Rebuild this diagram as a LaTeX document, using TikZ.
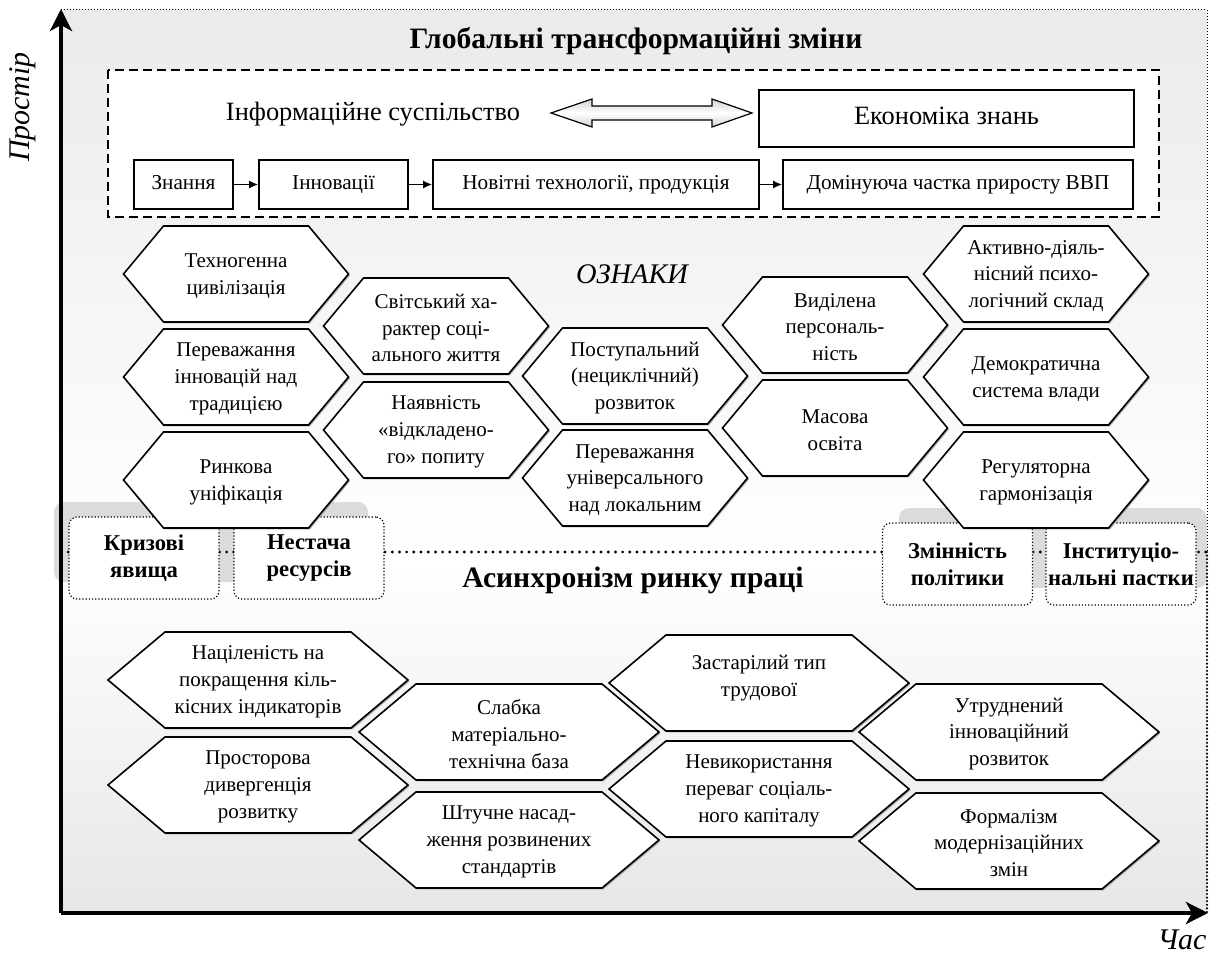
\documentclass[tikz,border=0pt]{standalone}
\usepackage{fontspec}
\setmainfont{Liberation Serif}
\usetikzlibrary{arrows.meta,calc,shadows}
\newcommand{\hexa}[7][]{\filldraw[hex](#3,#4)++(-#5,0)--++(#6,-48)--++({2*(#5-#6)},0)--++(#6,48)--++(-#6,48)--++({2*(#6-#5)},0)--cycle;\node[hext,#1](#2)at(#3,#4){#7};}
\begin{document}
\begin{tikzpicture}[x=.5pt,y=-.5pt,
 hex/.style={fill=white,draw,line width=.8pt,drop shadow={shadow xshift=.7pt,shadow yshift=-.7pt,fill=gray!70,opacity=1}},
 hext/.style={align=center,inner sep=0pt,yshift=-1pt,font=\fontsize{10.5}{13.4}\selectfont},
 flow/.style={draw,fill=white,line width=.8pt,minimum height=24.5pt,inner sep=2pt,text height=7.6pt,text depth=2.4pt,font=\fontsize{10.6}{12}\selectfont},
 big/.style={font=\fontsize{13.2}{15}\selectfont},
 head/.style={font=\bfseries\fontsize{14.8}{17}\selectfont},
 risk/.style={draw,densely dotted,line width=.6pt,fill=white,rounded corners=4pt,minimum width=75pt,minimum height=41pt,align=center,inner sep=1pt,font=\bfseries\fontsize{11.3}{13.3}\selectfont},
 axis/.style={line width=2pt,-{Stealth[length=11pt,width=11pt,inset=3pt]}},
 lab/.style={font=\itshape\fontsize{15}{18}\selectfont}]
\useasboundingbox(0,0)rectangle(1211,957);
% background
\shade[top color=gray!16,bottom color=white](61,10)rectangle(1207,560);
\shade[top color=white,bottom color=gray!19](61,560)rectangle(1207,913);
\fill[gray!28,rounded corners=5pt](54,502)rectangle(368,582);\fill[gray!28,rounded corners=5pt](899,508)rectangle(1207,588);
\draw[densely dotted,line width=.5pt](61,10)--(1207,10)--(1207,552);
\draw[line width=1.6pt,line cap=round,dash pattern=on 0pt off 3.6pt](61,552)--(1207,552);
\draw[line width=1.2pt,line cap=round,dash pattern=on 0pt off 1.8pt](1207,552)--(1207,913);
% risks
\node[risk](crisis)at(144,558){Кризові\\явища};\node[risk](lack)at(309,558){Нестача\\ресурсів};
\node[risk](policy)at(957.5,564){Змінність\\політики};\node[risk](trap)at(1121,564){Інституціо-\\нальні пастки};
% top block
\node[head](title)at(636,41){Глобальні трансформаційні зміни};
\draw[fill=white,line width=.8pt,dash pattern=on 4.5pt off 2.5pt](108,70)rectangle(1159,217);
\node[big](infsoc)at(373,114){Інформаційне суспільство};
\node[flow,big,minimum width=187.5pt,minimum height=28.5pt,text height=9.5pt,text depth=3pt](econ)at(946.5,118.5){Економіка знань};
\coordinate(dl)at(551,113);\coordinate(dr)at(752,113);
\path[draw,line width=.6pt,top color=gray!35,bottom color=gray!35,middle color=white](dl)--++(41,-14)--++(0,7)--++(120,0)--++(0,-7)--(dr)--++(-40,14)--++(0,-7)--++(-120,0)--++(0,7)--cycle;
\node[flow,minimum width=49.5pt](know)at(183.5,184.5){Знання};
\node[flow,minimum width=74.5pt](innov)at(333.5,184.5){Інновації};
\node[flow,minimum width=163pt](tech)at(596,184.5){Новітні технології, продукція};
\node[flow,minimum width=175pt](gdp)at(958,184.5){Домінуюча частка приросту ВВП};
\foreach\a/\b in{know/innov,innov/tech,tech/gdp}\draw[line width=.8pt,-{Latex[length=4.5pt,width=4pt]}](\a)--(\b);
% signs
\node[font=\itshape\fontsize{14.2}{16}\selectfont](signs)at(632,274){ОЗНАКИ};
\hexa{a1}{236}{274}{112.5}{40}{Техногенна\\цивілізація}
\hexa{a2}{236}{377}{112.5}{40}{Переважання\\інновацій над\\традицією}
\hexa{a3}{236}{480}{112.5}{40}{Ринкова\\уніфікація}
\hexa{b1}{436}{326}{112.5}{40}{Світський ха-\\рактер соці-\\ального життя}
\hexa{b2}{436}{430}{112.5}{40}{Наявність\\«відкладено-\\го» попиту}
\hexa{c1}{635}{376}{112.5}{40}{Поступальний\\(нециклічний)\\розвиток}
\hexa{c2}{635}{478}{112.5}{40}{Переважання\\універсального\\над локальним}
\hexa{d1}{835}{325}{112.5}{40}{Виділена\\персональ-\\ність}
\hexa{d2}{835}{428}{112.5}{40}{Масова\\освіта}
\hexa{e1}{1036}{274}{112.5}{40}{Активно-діяль-\\нісний психо-\\логічний склад}
\hexa{e2}{1036}{377}{112.5}{40}{Демократична\\система влади}
\hexa{e3}{1036}{480}{112.5}{40}{Регуляторна\\гармонізація}
% asynchronism
\node[head](async)at(633,580){Асинхронізм ринку праці};
\hexa{l1}{258}{680}{150}{57}{Націленість на\\покращення кіль-\\кісних індикаторів}
\hexa{l2}{258}{785}{150}{57}{Просторова\\дивергенція\\розвитку}
\hexa{m1}{509}{732}{150}{57}{Слабка\\матеріально-\\технічна база}
\hexa{m2}{509}{840}{150}{57}{Штучне насад-\\ження розвинених\\стандартів}
\hexa[yshift=3.5pt]{z1}{759}{683}{150}{57}{Застарілий тип\\трудової}
\hexa{z2}{759}{789}{150}{57}{Невикористання\\переваг соціаль-\\ного капіталу}
\hexa{u1}{1009}{732}{150}{57}{Утруднений\\інноваційний\\розвиток}
\hexa{u2}{1009}{841}{150}{57}{Формалізм\\модернізаційних\\змін}
% axes
\coordinate(o)at(61,913);\draw[axis](o)--(61,9);\draw[axis](o)--(1208,913);
\node[lab,rotate=90](space)at(23,107){Простір};\node[lab](time)at(1182,940){Час};
\end{tikzpicture}
\end{document}
